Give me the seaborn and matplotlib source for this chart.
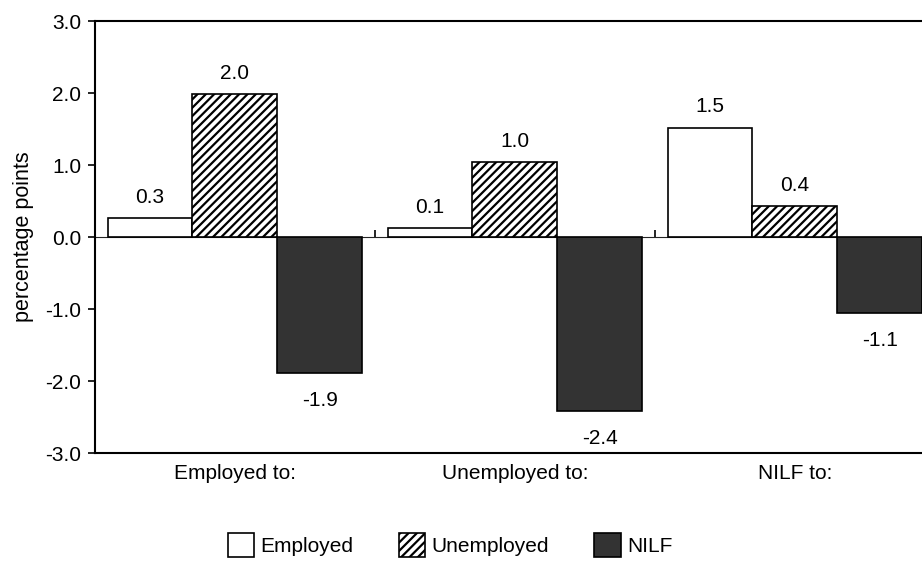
import matplotlib
matplotlib.use("Agg")
import matplotlib.pyplot as plt
import matplotlib.patches as mpatches
import seaborn as sns
import pandas as pd

# values
origins = ["Employed to:", "Unemployed to:", "NILF to:"]
to_employed = [0.26, 0.12, 1.52]
to_unemployed = [1.98, 1.04, 0.43]
to_nilf = [-1.89, -2.42, -1.06]
series = ["Employed", "Unemployed", "NILF"]
y_ticks = [-3.0, -2.0, -1.0, 0.0, 1.0, 2.0, 3.0]

df = pd.DataFrame({
    "origin": origins * 3,
    "destination": [s for s in series for _ in origins],
    "change": to_employed + to_unemployed + to_nilf,
})

sns.set_style("ticks")
plt.rcParams["font.family"] = ["Liberation Sans", "DejaVu Sans"]
plt.rcParams["hatch.linewidth"] = 1.6
plt.rcParams["text.color"] = "black"
plt.rcParams["xtick.color"] = "black"
plt.rcParams["ytick.color"] = "black"

colors = ["white", "white", "#333333"]
hatches = ["", "////", ""]
label_pad = [8, 8, 13]

fig = plt.figure(figsize=(9.22, 5.61), dpi=100)
ax = fig.add_axes([0.103, 0.1925, 0.911, 0.770])

sns.barplot(data=df, x="origin", y="change", hue="destination",
            hue_order=series, order=origins, palette=colors,
            edgecolor="black", linewidth=1.2, width=0.91, gap=0,
            saturation=1, legend=False, ax=ax)

for cont, h, pad in zip(ax.containers, hatches, label_pad):
    for p in cont.patches:
        p.set_hatch(h)
    ax.bar_label(cont, fmt="%.1f", padding=pad, fontsize=15)

ax.set_xlim(-0.5, 2.5)
ax.set_ylim(-3, 3)
ax.set_yticks(y_ticks)
ax.set_yticklabels([f"{v:.1f}" for v in y_ticks], fontsize=15)
ax.set_ylabel("percentage points", fontsize=15.5, labelpad=8, color="black")
ax.set_xlabel("")
ax.tick_params(axis="x", length=0, pad=8, labelsize=15)
ax.tick_params(axis="y", length=5, width=1.2, pad=5, direction="out")

for side in ["left", "top", "bottom"]:
    ax.spines[side].set_linewidth(1.5)
    ax.spines[side].set_color("black")
ax.spines["right"].set_visible(False)

# zero line with category-boundary ticks
zero = ax.secondary_xaxis(0.5)
zero.set_xticks([0.5, 1.5])
zero.set_xticklabels([])
zero.tick_params(length=5, width=1.2, direction="out")
zero.spines["bottom"].set_linewidth(2)
zero.spines["bottom"].set_zorder(5)

handles = [mpatches.Patch(facecolor=c, edgecolor="black", hatch=h, linewidth=1.2, label=s)
           for c, h, s in zip(colors, hatches, series)]
fig.legend(handles=handles, loc="center", bbox_to_anchor=(0.488, 0.0285), ncol=3,
           frameon=False, fontsize=15, handlelength=1.25, handleheight=1.35,
           handletextpad=0.3, columnspacing=2.2)

fig.savefig("out.png", dpi=100)
